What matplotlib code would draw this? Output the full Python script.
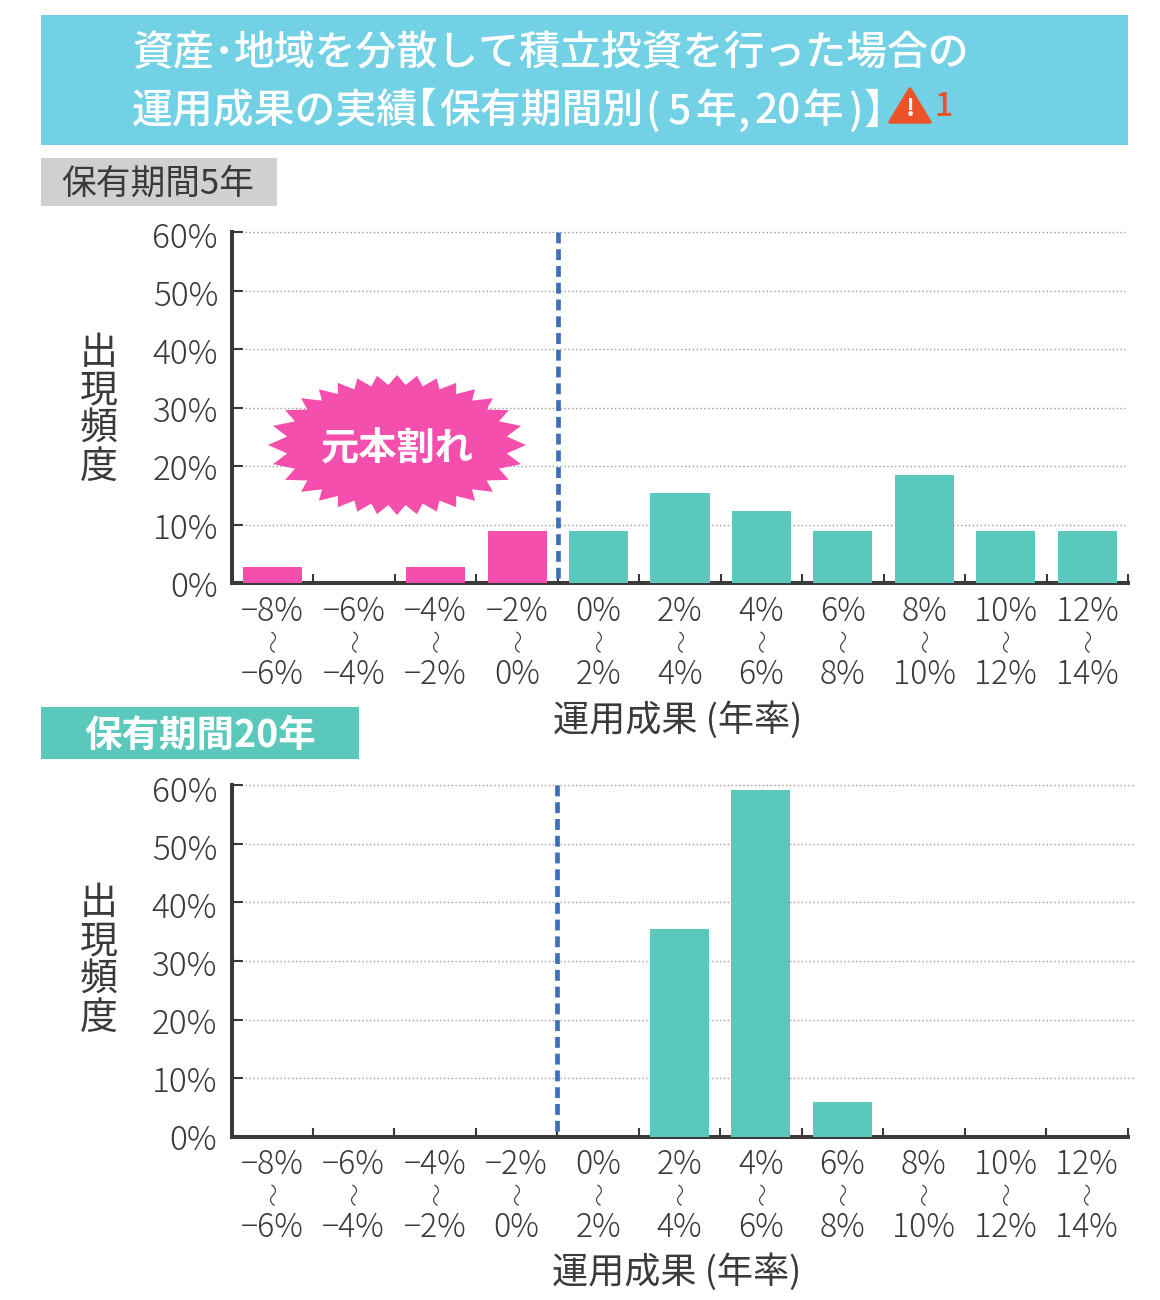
import numpy as np
import matplotlib
matplotlib.use("Agg")
import matplotlib.pyplot as plt
from matplotlib.patches import Rectangle, Polygon

plt.rcParams['font.family'] = ['Noto Sans CJK JP', 'DejaVu Sans']

title1_parts = ["資産", "･", "地域を分散して積立投資を行った場合の"]
title2_parts = ["運用成果の実績", "【", "保有期間別", "(", "5", "年", ",", "20", "年", ")", "】"]
panel1_label = "保有期間5年"
panel2_label = "保有期間20年"
lower_edges = ["−8%", "−6%", "−4%", "−2%", "0%", "2%", "4%", "6%", "8%", "10%", "12%"]
upper_edges = ["−6%", "−4%", "−2%", "0%", "2%", "4%", "6%", "8%", "10%", "12%", "14%"]
values_5y = [2.8, 0, 2.8, 8.9, 8.9, 15.4, 12.3, 8.9, 18.5, 8.9, 8.9]
values_20y = [0, 0, 0, 0, 0, 35.4, 59.1, 6.0, 0, 0, 0]
yticks = [0, 10, 20, 30, 40, 50, 60]
ylabel_chars = "出\n現\n頻\n度"
xlabel_text = "運用成果 (年率)"
burst_text = "元本割れ"

TEAL = "#5ac8bb"
PINK = "#f54fae"
BLUE = "#3e6fb8"
DARK = "#3a3a3a"
SKY = "#72d1e4"

W, H = 1160, 1300
fig = plt.figure(figsize=(W / 100, H / 100), dpi=100, facecolor="white")
ov = fig.add_axes([0, 0, 1, 1], zorder=5)
ov.set_xlim(0, W)
ov.set_ylim(H, 0)
ov.axis("off")
ov.patch.set_alpha(0)

TICK_FS = 23


def panel(values, left, right, top, bottom, grid_right, right_lab, lab_span, xlab_dy, ylab_y):
    ax = fig.add_axes([left / W, 1 - bottom / H, (right - left) / W, (bottom - top) / H], zorder=2)
    ax.set_xlim(-0.5, 10.5)
    ax.set_ylim(0, 60)
    x = np.arange(len(values))
    colors = [PINK if i < 4 else TEAL for i in x]
    ax.bar(x, values, width=0.725, color=colors, zorder=3)
    for s in ("top", "right"):
        ax.spines[s].set_visible(False)
    for s in ("left", "bottom"):
        ax.spines[s].set_linewidth(2.9)
        ax.spines[s].set_color(DARK)
    ax.set_yticks(yticks)
    ax.set_yticklabels([])
    ax.set_xticks(np.arange(-0.5, 11.0, 1))
    ax.set_xticklabels([])
    ax.tick_params(axis="y", direction="in", length=8, width=1.5, color=DARK)
    ax.tick_params(axis="x", direction="in", length=6.5, width=1.5, color=DARK)
    for v in yticks[1:]:
        ax.plot([-0.5 + 13 / 81.45, (grid_right - left) / 81.45 - 0.5], [v, v], color="#9a9a9a",
                lw=1.0, ls=(0, (1, 1.8)), zorder=1, clip_on=False)
    ax.plot([3.5, 3.5], [60, 0], color=BLUE, lw=3.4, ls=(0, (2.3, 1.25)), zorder=4,
            solid_capstyle="butt", dash_capstyle="butt")
    for v in yticks:
        py = lab_span[1] - (lab_span[1] - lab_span[0]) * v / 60
        ov.text(right_lab, py, f"{v}%", ha="right", va="center", fontsize=24,
                color=DARK, fontweight="light")
    for i, (lo, hi) in enumerate(zip(lower_edges, upper_edges)):
        px = left + (right - left) * (i + 0.5) / 11
        ov.text(px, bottom + 29 + xlab_dy, lo, ha="center", va="center", fontsize=TICK_FS, color=DARK,
                fontweight="light")
        ov.text(px + 3, bottom + 57 + xlab_dy, "〜", ha="center", va="center", fontsize=17, color=DARK,
                rotation=90, fontweight="light")
        ov.text(px, bottom + 92 + xlab_dy, hi, ha="center", va="center", fontsize=TICK_FS, color=DARK,
                fontweight="light")
    ov.text(99, ylab_y, ylabel_chars, ha="center", va="center", fontsize=27.3, color=DARK,
            linespacing=0.97)
    return ax


ax1 = panel(values_5y, 232, 1128, 232, 583, 1125, 218, (238.5, 587.5), 0, 410.5)
ax2 = panel(values_20y, 231.5, 1127.5, 785, 1137, 1133, 217, (792.5, 1140.5), -1, 961)

# title banner
ov.add_patch(Rectangle((41, 15), 1087, 130, fc=SKY, ec="none"))
T_FS = 29.4
for px, s, ha, w in zip([132, 224, 234], title1_parts, ["left", "center", "left"], ["medium", "bold", "medium"]):
    ov.text(px, 54, s, ha=ha, va="center", fontsize=T_FS, color="white", fontweight=w)
for px, s in zip([132, 396, 439, 645, 668, 695, 738, 755, 802, 848, 864], title2_parts):
    ov.text(px, 112, s, ha="left", va="center", fontsize=T_FS, color="white", fontweight="medium")
# warning icon
ov.add_patch(Polygon([[910, 89], [890, 122], [930, 122]], closed=True, fc="#ec5328", ec="#ec5328",
                     lw=2.5, joinstyle="round"))
ov.text(910, 109, "!", ha="center", va="center", fontsize=18, color="white", fontweight="bold")
ov.text(943, 107, "1", ha="center", va="center", fontsize=23, color="#ec5328", fontweight="medium")

# panel tags
ov.add_patch(Rectangle((41, 158), 236, 48, fc="#d0d0d0", ec="none"))
ov.text(61, 184, panel1_label, ha="left", va="center", fontsize=25, color=DARK)
ov.add_patch(Rectangle((41, 707), 318, 52, fc=TEAL, ec="none"))
ov.text(84, 735, panel2_label, ha="left", va="center", fontsize=27, color="white", fontweight="bold")

# x axis titles
ov.text(678, 720, xlabel_text, ha="center", va="center", fontsize=26, color=DARK)
ov.text(677, 1272, xlabel_text, ha="center", va="center", fontsize=26, color=DARK)

# starburst: points equally spaced along an ellipse
cx, cy, rx, ry = 397, 445, 129, 70
n = 32
t = np.linspace(0, 2 * np.pi, 20001)
arc = np.r_[0, np.cumsum(np.hypot(np.diff(rx * np.cos(t)), np.diff(ry * np.sin(t))))]
target = np.linspace(0, arc[-1], 2 * n, endpoint=False)
ang = np.interp(target, arc, t)
rad = np.where(np.arange(2 * n) % 2 == 0, 1.0, 0.86)
ov.add_patch(Polygon(np.c_[cx + rx * rad * np.cos(ang), cy + ry * rad * np.sin(ang)],
                     closed=True, fc=PINK, ec="none", zorder=6))
ov.text(397, 449, burst_text, ha="center", va="center", fontsize=27.5, color="white", fontweight="bold", zorder=7)

fig.savefig("out.png", dpi=100)
